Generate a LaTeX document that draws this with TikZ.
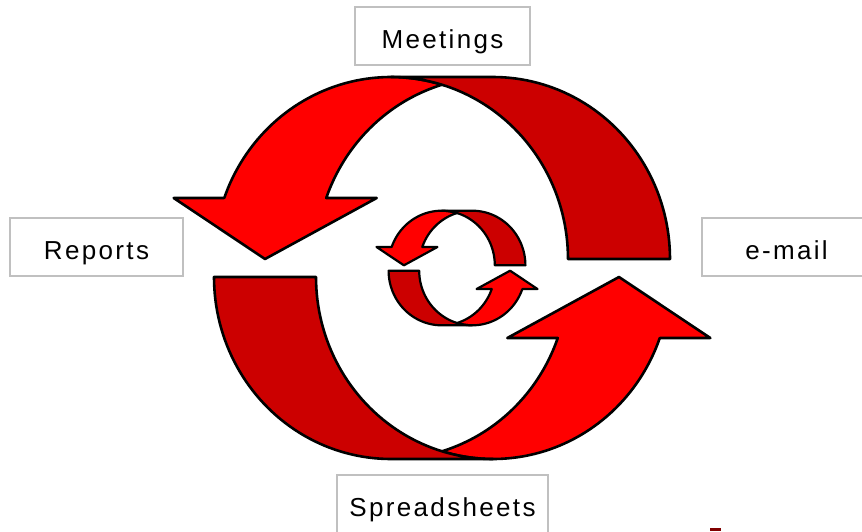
\documentclass[tikz,border=0pt]{standalone}
\usepackage{fontspec}
\setmainfont{Liberation Sans}[LetterSpace=9]
\definecolor{brightred}{RGB}{255,0,0}
\definecolor{darkred}{RGB}{204,0,0}
\definecolor{boxgray}{RGB}{192,192,192}
\definecolor{markred}{RGB}{128,0,0}
\tikzset{
  shapeline/.style={draw=black, line join=round},
  labelbox/.style={draw=boxgray, line width=1.5pt, fill=white, minimum height=58pt,
    inner sep=0pt, text height=24pt, text depth=0pt, font=\fontsize{26}{30}\selectfont},
}
% curved up arrow in pixel coordinates (y downwards)
\newcommand\curvedUpShape{%
  \filldraw[shapeline, fill=brightred] (619,277) -- (710.3,338) -- (659.8,338)
    -- plot[domain=19.58:106.75,samples=50] ({493+177*cos(\x)},{277+182*sin(\x)})
    -- plot[domain=73.25:19.58,samples=50] ({391+177*cos(\x)},{277+182*sin(\x)})
    -- (507.3,338) -- cycle;
  \filldraw[shapeline, fill=darkred]
    plot[domain=90:180,samples=50] ({391+177*cos(\x)},{277+182*sin(\x)})
    -- plot[domain=180:90,samples=50] ({493+177*cos(\x)},{277+182*sin(\x)}) -- cycle;
}
\begin{document}
\begin{tikzpicture}[x=1pt,y=-1pt]
\useasboundingbox (0,0) rectangle (862,531);
\clip (0,0) rectangle (862,531);
\fill[white] (0,0) rectangle (862,531);
% big arrows
\begin{scope}[line width=2.6pt]
  \curvedUpShape
\end{scope}
\begin{scope}[line width=2.6pt, rotate around={180:(442,268)}]
  \curvedUpShape
\end{scope}
% small arrows
\begin{scope}[line width=2.2pt, shift={(324.4,187.6)}, scale=0.3]
  \curvedUpShape
\end{scope}
\begin{scope}[line width=2.2pt, shift={(324.4,187.6)}, scale=0.3, rotate around={180:(442,268)}]
  \curvedUpShape
\end{scope}
% labels
\node[labelbox, minimum width=175pt] (meetings) at (442.5,36) {Meetings};
\node[labelbox, minimum width=173pt] (reports) at (96.5,247) {Reports};
\node[labelbox, minimum width=169pt] (email) at (786.5,247) {e-mail};
\node[labelbox, minimum width=211pt] (spreadsheets) at (442.5,504) {Spreadsheets};
% small mark
\fill[markred] (710,528) rectangle (721,531);
\end{tikzpicture}
\end{document}
